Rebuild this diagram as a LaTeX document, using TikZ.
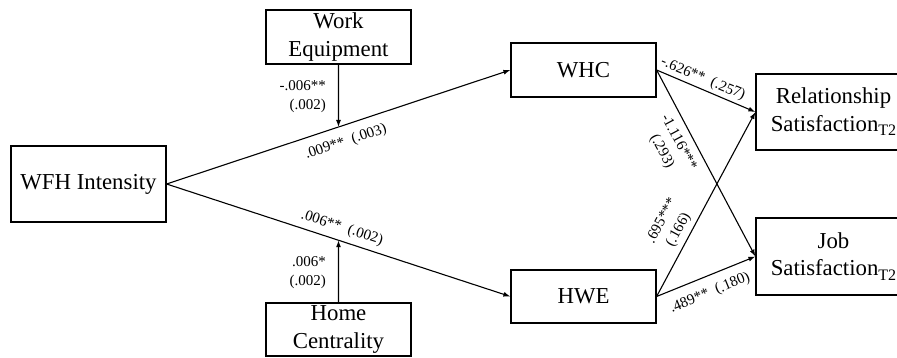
\documentclass[tikz,border=0pt]{standalone}
\usepackage{fontspec}
\setmainfont{Liberation Serif}
\usetikzlibrary{arrows.meta,calc}
\newcommand{\tsub}{{\fontsize{16}{16}\selectfont\raisebox{-4.5pt}{T2}}}
\begin{document}
\begin{tikzpicture}[x=1pt,y=-1pt,
  box/.style={draw,line width=1.2pt,inner sep=0pt,align=center,font=\fontsize{22.8}{27.5}\selectfont},
  arr/.style={line width=1.1pt,-{Latex[length=7pt,width=5pt]}},
  lab/.style={inner sep=0pt,font=\fontsize{15}{19}\selectfont}]
\useasboundingbox (0,0) rectangle (897,358);
\node[box,minimum width=155pt,minimum height=76pt] (wfh) at (88.5,184) {WFH Intensity};
\node[box,minimum width=145pt,minimum height=54pt] (we) at (338.5,37) {Work\\Equipment};
\node[box,minimum width=145pt,minimum height=53pt] (hc) at (338.5,329.5) {Home\\Centrality};
\node[box,minimum width=145pt,minimum height=54pt] (whc) at (583.5,70) {WHC};
\node[box,minimum width=145pt,minimum height=53pt] (hwe) at (583.5,296.5) {HWE};
\node[box,minimum width=155pt,minimum height=76pt] (rel) at (833.5,112) {Relationship\\Satisfaction\tsub};
\node[box,minimum width=155pt,minimum height=77pt] (job) at (833.5,256.5) {Job\\Satisfaction\tsub};
\draw[arr] (wfh.east) -- (whc.west);
\draw[arr] (wfh.east) -- (hwe.west);
\coordinate (m1) at ($(wfh.east)!0.5!(whc.west)$);
\coordinate (m2) at ($(wfh.east)!0.5!(hwe.west)$);
\draw[arr] (we.south) -- (m1);
\draw[arr] (hc.north) -- (m2);
\draw[arr] (whc.east) -- (rel.west);
\draw[arr] (whc.east) -- (job.west);
\draw[arr] (hwe.east) -- (rel.west);
\draw[arr] (hwe.east) -- (job.west);
\node[lab,align=right,anchor=east] (l1) at (326,97) {-.006**\\(.002)};
\node[lab,align=right,anchor=east] (l2) at (326,273) {.006*\\(.002)};
\node[lab,rotate=18.3] (l3) at (346,142) {.009**~~(.003)};
\node[lab,rotate=-18.1] (l4) at (342,228) {.006**~~(.002)};
\node[lab,rotate=-22.8] (l5) at (703,79) {-.626**~~(.257)};
\node[lab,rotate=-61.7,align=center] (l6) at (670,147) {-1.116***\\(.293)};
\node[lab,rotate=61.6,align=center] (l7) at (670.5,225.5) {.695***\\(.166)};
\node[lab,rotate=22.3] (l8) at (710,293) {.489**~~(.180)};
\end{tikzpicture}
\end{document}
